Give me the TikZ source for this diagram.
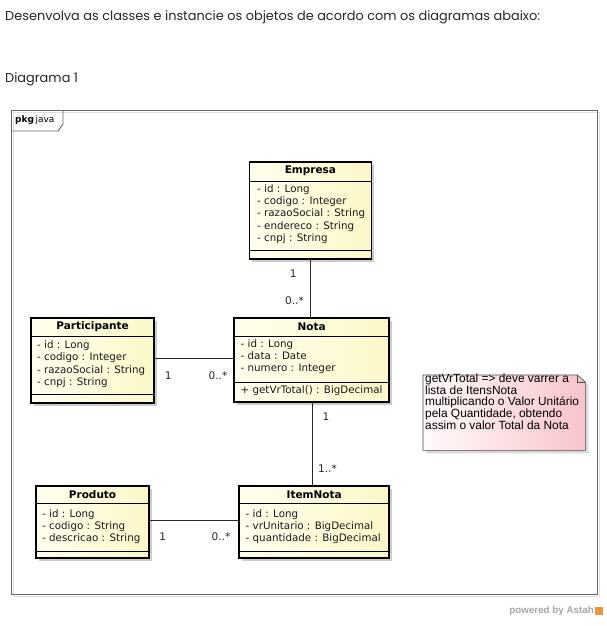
\documentclass[tikz,border=0pt]{standalone}
\usepackage{fontspec}
\setmainfont{DejaVu Sans}
\newfontfamily\notefont{Liberation Sans}
\newfontfamily\headfont{Poppins}
\usetikzlibrary{shadows}
\definecolor{ylA}{RGB}{255,255,238}
\definecolor{ylB}{RGB}{252,247,200}
\definecolor{pkA}{RGB}{255,250,250}
\definecolor{pkB}{RGB}{248,196,202}
\definecolor{astah}{RGB}{235,150,60}
\begin{document}
\begin{tikzpicture}[x=1pt,y=-1pt,
  cls/.style={draw=black, line width=1.8pt, inner sep=0, anchor=north west,
    left color=ylA, right color=ylB,
    drop shadow={shadow xshift=3pt, shadow yshift=-3pt, fill=black!20, opacity=1}},
  sepline/.style={line width=0.8pt, black},
  ctitle/.style={font=\fontsize{10.5}{12}\selectfont\bfseries, inner sep=0},
  attrs/.style={font=\fontsize{10.3}{12.3}\selectfont, align=left, inner sep=0, anchor=north west, text=black!90},
  mult/.style={font=\fontsize{10.5}{12}\selectfont, inner sep=0, text=black!85},
  assoc/.style={line width=0.8pt, black!85},
  heading/.style={font=\headfont\fontsize{12.9}{14}\selectfont, inner sep=0, anchor=west, text=black!85}
]
\useasboundingbox (0,0) rectangle (606,626);
\fill[white] (0,0) rectangle (606,626);

% headings
\node[heading] (h1) at (5,17) {Desenvolva as classes e instancie os objetos de acordo com os diagramas abaixo:};
\node[heading] (h2) at (5,79) {Diagrama 1};

% package frame
\draw[black!12, line width=1pt] (13,112) rectangle (599,596);
\node[draw=black!60, line width=1.1pt, minimum width=586pt, minimum height=484pt, inner sep=0, anchor=north west] (frame) at (11,110) {};
\draw[black!60, line width=0.9pt] ([yshift=-21pt]frame.north west) -- ++(47,0) -- ++(5,-7) -- (63,110);
\node[inner sep=0, anchor=west, font=\fontsize{9}{10}\selectfont] (pkg) at (15,120) {\textbf{pkg}\,java};

% classes
\node[cls, minimum width=122pt, minimum height=97pt] (emp) at (248.5,161) {};
\node[cls, minimum width=155pt, minimum height=84pt] (nota) at (233.3,316.7) {};
\node[cls, minimum width=123.3pt, minimum height=85pt] (part) at (30,316.7) {};
\node[cls, minimum width=113.3pt, minimum height=71.7pt] (prod) at (35,485) {};
\node[cls, minimum width=150pt, minimum height=71.7pt] (item) at (238.3,485) {};

% separators
\draw[sepline] ([yshift=-20pt]emp.north west) -- ([yshift=-20pt]emp.north east);
\draw[sepline] ([yshift=9pt]emp.south west) -- ([yshift=9pt]emp.south east);
\draw[sepline] ([yshift=-20pt]nota.north west) -- ([yshift=-20pt]nota.north east);
\draw[sepline] ([yshift=20.5pt]nota.south west) -- ([yshift=20.5pt]nota.south east);
\draw[sepline] ([yshift=-20pt]part.north west) -- ([yshift=-20pt]part.north east);
\draw[sepline] ([yshift=9.5pt]part.south west) -- ([yshift=9.5pt]part.south east);
\draw[sepline] ([yshift=-18.5pt]prod.north west) -- ([yshift=-18.5pt]prod.north east);
\draw[sepline] ([yshift=7.5pt]prod.south west) -- ([yshift=7.5pt]prod.south east);
\draw[sepline] ([yshift=-18.5pt]item.north west) -- ([yshift=-18.5pt]item.north east);
\draw[sepline] ([yshift=7.5pt]item.south west) -- ([yshift=7.5pt]item.south east);

% titles
\node[ctitle] (empT) at ([yshift=-10pt]emp.north) {Empresa};
\node[ctitle] (notaT) at ([yshift=-10pt]nota.north) {Nota};
\node[ctitle] (partT) at ([yshift=-10pt]part.north) {Participante};
\node[ctitle] (prodT) at ([yshift=-9.5pt]prod.north) {Produto};
\node[ctitle] (itemT) at ([yshift=-9.5pt]item.north) {ItemNota};

% attributes
\node[attrs] (empA) at (257,184.3) {- id : Long\\- codigo : Integer\\- razaoSocial : String\\- endereco : String\\- cnpj : String};
\node[attrs] (notaA) at (240.5,339.3) {- id : Long\\- data : Date\\- numero : Integer};
\node[attrs] (notaM) at (240.5,385) {+ getVrTotal() : BigDecimal};
\node[attrs] (partA) at (37,340.5) {- id : Long\\- codigo : Integer\\- razaoSocial : String\\- cnpj : String};
\node[attrs] (prodA) at (42,509) {- id : Long\\- codigo : String\\- descricao : String};
\node[attrs] (itemA) at (245.5,509) {- id : Long\\- vrUnitario : BigDecimal\\- quantidade : BigDecimal};

% associations
\draw[assoc] (emp.south) -- (emp.south |- nota.north);
\draw[assoc] (part.east |- 0,358.3) -- (nota.west |- 0,358.3);
\draw[assoc] (nota.south -| 312.3,0) -- (item.north -| 312.3,0);
\draw[assoc] (prod.east |- 0,520.7) -- (item.west |- 0,520.7);

% multiplicities
\node[mult] (m1) at (293.3,274) {1};
\node[mult] (m2) at (294.5,301) {0..*};
\node[mult] (m3) at (168.3,375.7) {1};
\node[mult] (m4) at (218,375.7) {0..*};
\node[mult] (m5) at (326,416.7) {1};
\node[mult] (m6) at (327.5,469) {1..*};
\node[mult] (m7) at (162.7,536.7) {1};
\node[mult] (m8) at (221,536.7) {0..*};

% note
\node[inner sep=0, minimum width=162pt, minimum height=75pt, anchor=north west] (note) at (423,375) {};
\path[left color=pkA, right color=pkB, drop shadow={shadow xshift=3pt, shadow yshift=-3pt, fill=black!15, opacity=1}]
  (note.north west) -- ([xshift=-8pt]note.north east) -- ([yshift=-7pt]note.north east) -- (note.south east) -- (note.south west) -- cycle;
\draw[black!70, line width=0.6pt]
  (note.north west) -- ([xshift=-8pt]note.north east) -- ([yshift=-7pt]note.north east) -- (note.south east) -- (note.south west) -- cycle;
\draw[black!70, line width=0.6pt] ([xshift=-8pt]note.north east) -- ([xshift=-8pt,yshift=-7pt]note.north east) -- ([yshift=-7pt]note.north east);
\node[inner sep=0, anchor=north west, align=left, font=\notefont\fontsize{11.9}{11}\selectfont] (noteT) at (425,373.5)
  {getVrTotal => deve varrer a\\lista de ItensNota\\multiplicando o Valor Unitário\\pela Quantidade, obtendo\\assim o valor Total da Nota};

% powered by
\node[inner sep=0, anchor=east, font=\notefont\bfseries\fontsize{9.8}{11}\selectfont, text=black!35] (pw) at (594,610.5) {powered by Astah};
\node[inner sep=0, minimum width=8pt, minimum height=8pt, fill=astah, anchor=west] (logo) at (594.5,610.5) {};
\end{tikzpicture}
\end{document}
